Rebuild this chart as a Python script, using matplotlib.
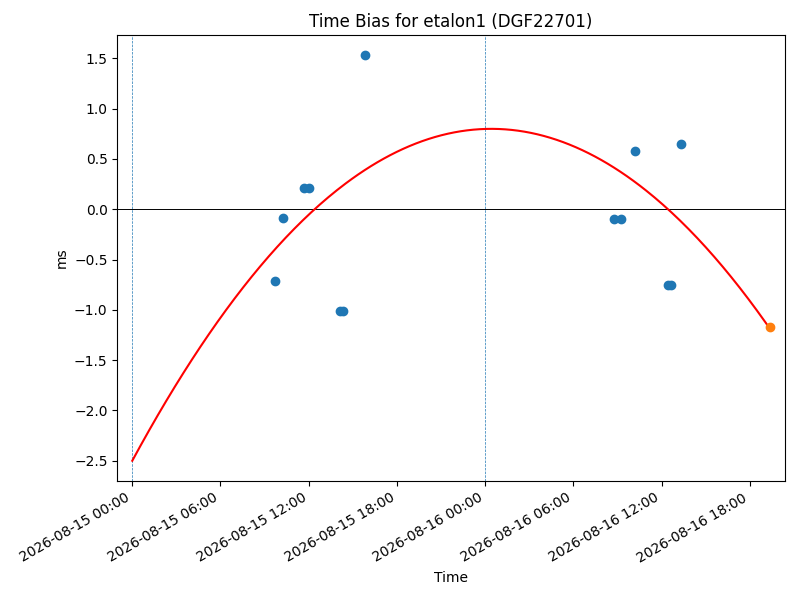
import matplotlib
matplotlib.use('Agg')
import matplotlib.pyplot as plt
import matplotlib.dates as mdates
import numpy as np
from datetime import datetime, timedelta

# measured time bias samples
times = [
    "2026-08-15 09:43", "2026-08-15 10:16", "2026-08-15 11:39", "2026-08-15 12:02",
    "2026-08-15 14:08", "2026-08-15 14:20", "2026-08-15 15:50",
    "2026-08-16 08:46", "2026-08-16 09:15", "2026-08-16 10:12",
    "2026-08-16 12:28", "2026-08-16 12:40", "2026-08-16 13:20",
]
bias_ms = [-0.715, -0.09, 0.21, 0.21, -1.015, -1.015, 1.53,
           -0.10, -0.10, 0.58, -0.755, -0.755, 0.65]

# latest point
last_time = "2026-08-16 19:21"
last_bias = -1.167

# quadratic fit (hours since start): c2*t^2 + c1*t + c0
fit_start = "2026-08-15 00:00"
fit_coeffs = [-0.005532, 0.27017, -2.5]

day_marks = ["2026-08-15 00:00", "2026-08-16 00:00"]


def P(s):
	return datetime.strptime(s, "%Y-%m-%d %H:%M")


t_pts = [P(s) for s in times]
t0 = P(fit_start)
t_end = P(last_time)

hours = np.linspace(0, (t_end - t0).total_seconds() / 3600, 300)
fit_t = [t0 + timedelta(hours=float(h)) for h in hours]
fit_y = np.polyval(fit_coeffs, hours)

fig, ax = plt.subplots(figsize=(8, 6), dpi=100)

for d in day_marks:
	ax.axvline(P(d), color='C0', linestyle='--', linewidth=0.5)
ax.axhline(0, color='black', linewidth=0.7)

ax.plot(fit_t, fit_y, color='red')
ax.scatter(t_pts, bias_ms, color='C0', zorder=3)
ax.scatter([t_end], [last_bias], color='C1', zorder=3)

ax.set_xlim(t0 - timedelta(hours=1.02), t0 + timedelta(hours=44.38))
ax.xaxis.set_major_locator(mdates.HourLocator(byhour=[0, 6, 12, 18]))
ax.xaxis.set_major_formatter(mdates.DateFormatter('%Y-%m-%d %H:%M'))

ax.set_title('Time Bias for etalon1 (DGF22701)')
ax.set_xlabel('Time')
ax.set_ylabel('ms')

fig.autofmt_xdate()
fig.subplots_adjust(left=0.1466, right=0.981, top=0.9417, bottom=0.1983)
plt.savefig('out.png')
plt.close()
